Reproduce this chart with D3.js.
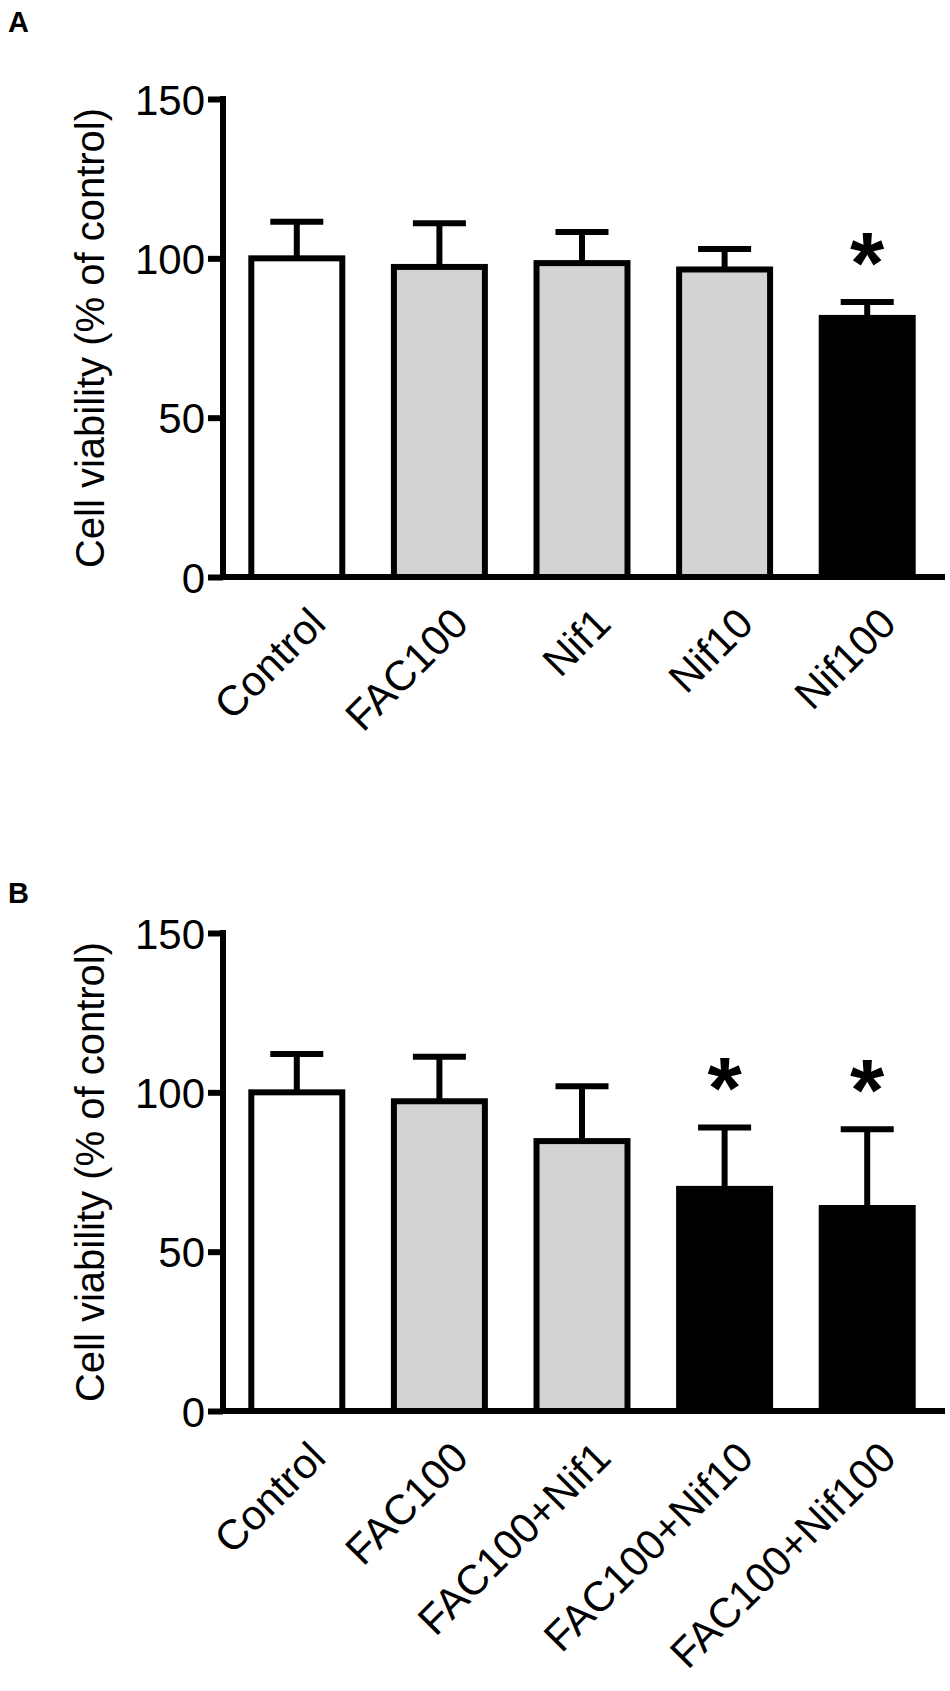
<!DOCTYPE html>
<html>
<head>
<meta charset="utf-8">
<script src="https://d3js.org/d3.v7.min.js"></script>
<style>
    body { margin: 0; background: #fff; }
    text { font-family: "Liberation Sans", Arial, sans-serif; fill: #000; }
</style>
</head>
<body>
<script>
// Panel A data
let groupsA = ["Control", "FAC100", "Nif1", "Nif10", "Nif100"];
let meansA = [100, 97.3, 98.5, 96.5, 81.3];
let errsA = [11.5, 13.7, 9.8, 6.4, 5.0];
let fillsA = ["white", "lightgray", "lightgray", "lightgray", "black"];
let starsA = [false, false, false, false, true];

// Panel B data
let groupsB = ["Control", "FAC100", "FAC100+Nif1", "FAC100+Nif10", "FAC100+Nif100"];
let meansB = [100, 97.2, 84.7, 69.7, 63.7];
let errsB = [12, 14, 17.2, 19.3, 24.7];
let fillsB = ["white", "lightgray", "lightgray", "black", "black"];
let starsB = [false, false, false, true, true];

let yTicks = [0, 50, 100, 150];
let yLabel = "Cell viability (% of control)";

let width = 950;
let height = 1691;

var svg = d3.select("body").append("svg")
    .attr("width", width)
    .attr("height", height);

svg.append("rect")
    .attr("width", width)
    .attr("height", height)
    .attr("fill", "white");

function drawPanel(letter, letterY, top, groups, means, errs, fills, stars) {
    let axisX = 223;
    let plotH = 478;
    let lw = 6;

    let x = d3.scaleBand()
        .domain(groups)
        .range([222, 942])
        .paddingInner(0.32)
        .paddingOuter(0.1845);

    let y = d3.scaleLinear()
        .domain([0, 150])
        .range([top + plotH, top]);

    let data = groups.map((g, i) => ({
        name: g, mean: means[i], err: errs[i], fill: fills[i], star: stars[i]
    }));

    let g = svg.append("g");

    // panel letter
    g.append("text")
        .attr("x", 8)
        .attr("y", letterY)
        .attr("font-size", "29px")
        .attr("font-weight", "bold")
        .text(letter);

    // bars
    g.selectAll(".bar")
        .data(data)
        .enter().append("rect")
        .attr("class", "bar")
        .attr("x", d => x(d.name) + lw / 2)
        .attr("y", d => y(d.mean))
        .attr("width", x.bandwidth() - lw)
        .attr("height", d => y(0) - y(d.mean))
        .attr("fill", d => d.fill)
        .attr("stroke", "black")
        .attr("stroke-width", lw);

    // error bars (upper only)
    let capW = 53;
    g.selectAll(".err")
        .data(data)
        .enter().append("line")
        .attr("class", "err")
        .attr("x1", d => x(d.name) + x.bandwidth() / 2)
        .attr("x2", d => x(d.name) + x.bandwidth() / 2)
        .attr("y1", d => y(d.mean))
        .attr("y2", d => y(d.mean + d.err))
        .attr("stroke", "black")
        .attr("stroke-width", lw);

    g.selectAll(".cap")
        .data(data)
        .enter().append("line")
        .attr("class", "cap")
        .attr("x1", d => x(d.name) + x.bandwidth() / 2 - capW / 2)
        .attr("x2", d => x(d.name) + x.bandwidth() / 2 + capW / 2)
        .attr("y1", d => y(d.mean + d.err))
        .attr("y2", d => y(d.mean + d.err))
        .attr("stroke", "black")
        .attr("stroke-width", lw);

    // significance stars
    g.selectAll(".star")
        .data(data.filter(d => d.star))
        .enter().append("text")
        .attr("class", "star")
        .attr("x", d => x(d.name) + x.bandwidth() / 2)
        .attr("y", d => y(d.mean + d.err) - 9)
        .attr("text-anchor", "middle")
        .attr("font-size", "88px")
        .attr("font-weight", "bold")
        .text("*");

    // y axis
    let yAxis = d3.axisLeft(y)
        .tickValues(yTicks)
        .tickSize(15)
        .tickPadding(3)
        .tickSizeOuter(0);

    let ya = g.append("g")
        .attr("transform", "translate(" + axisX + ",0)")
        .call(yAxis);
    ya.select(".domain")
        .attr("stroke-width", lw)
        .attr("d", "M0," + (y(0) + lw / 2) + "V" + (y(150) - lw / 2));
    ya.selectAll(".tick line").attr("stroke-width", lw);
    ya.selectAll(".tick text")
        .attr("font-size", "42px")
        .attr("font-family", "'Liberation Sans', Arial, sans-serif")
        .attr("dy", "0.36em");

    // x axis line
    g.append("line")
        .attr("x1", axisX - lw / 2)
        .attr("x2", 945)
        .attr("y1", y(0))
        .attr("y2", y(0))
        .attr("stroke", "black")
        .attr("stroke-width", lw);

    // x labels rotated
    g.selectAll(".xlabel")
        .data(data)
        .enter().append("text")
        .attr("class", "xlabel")
        .attr("transform", d => "translate(" + (x(d.name) + x.bandwidth() / 2 + 31) + "," + (y(0) + 49) + ") rotate(-45)")
        .attr("text-anchor", "end")
        .attr("font-size", "42px")
        .text(d => d.name);

    // y label
    g.append("text")
        .attr("transform", "translate(104," + (top + plotH / 2) + ") rotate(-90)")
        .attr("text-anchor", "middle")
        .attr("font-size", "40px")
        .text(yLabel);
}

drawPanel("A", 32, 99, groupsA, meansA, errsA, fillsA, starsA);
drawPanel("B", 903, 933, groupsB, meansB, errsB, fillsB, starsB);
</script>
</body>
</html>
